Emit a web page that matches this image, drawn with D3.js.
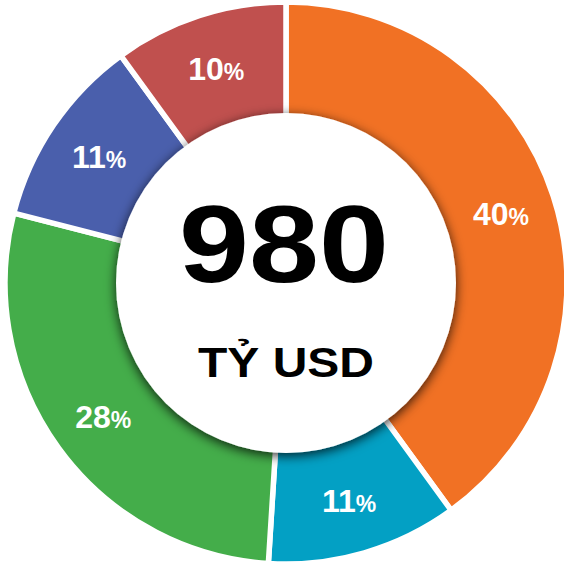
<!DOCTYPE html>
<html>
<head>
<meta charset="utf-8">
<script src="https://cdn.jsdelivr.net/npm/d3@7"></script>
<style>
    body { margin: 0; background: #fff; }
    text { font-family: "Liberation Sans", Arial, sans-serif; font-weight: bold; }
</style>
</head>
<body>
<div id="chart"></div>
<script>
var ctx = {
    w: 564,
    h: 564,
    cx: 286,
    cy: 283
};

// slice shares, clockwise from 12 o'clock
var shares = [40, 11, 28, 11, 10];
var colors = ["#F17124", "#03A0C4", "#44AD4A", "#4A5FAC", "#C0504E"];
var total = "980";
var unit = "TỶ USD";

var svg = d3.select("#chart").append("svg")
    .attr("width", ctx.w)
    .attr("height", ctx.h);

var defs = svg.append("defs");
var shadow = defs.append("filter")
    .attr("id", "shadow")
    .attr("x", "-20%").attr("y", "-20%")
    .attr("width", "140%").attr("height", "140%");
shadow.append("feDropShadow")
    .attr("dx", 0)
    .attr("dy", 3)
    .attr("stdDeviation", 6)
    .attr("flood-color", "#000")
    .attr("flood-opacity", 0.8);

var g = svg.append("g")
    .attr("transform", "translate(" + ctx.cx + "," + ctx.cy + ")");

var pie = d3.pie().sort(null).value(function (d) { return d; });
var arcs = pie(shares);

var arc = d3.arc()
    .innerRadius(140)
    .outerRadius(281);

g.selectAll("path.slice")
    .data(arcs)
    .enter().append("path")
    .attr("class", "slice")
    .attr("d", arc)
    .style("fill", function (d, i) { return colors[i]; })
    .style("stroke", "#fff")
    .style("stroke-width", 5.5);

// white centre disc with soft shadow
g.append("circle")
    .attr("r", 170)
    .style("fill", "#fff")
    .attr("filter", "url(#shadow)");

var labelArc = d3.arc()
    .innerRadius(226)
    .outerRadius(226);

var labels = g.selectAll("text.pct")
    .data(arcs)
    .enter().append("text")
    .attr("class", "pct")
    .attr("transform", function (d) {
        var c = labelArc.centroid(d);
        return "translate(" + c[0] + "," + (c[1] + 12) + ")";
    })
    .attr("text-anchor", "middle")
    .style("fill", "#fff");
labels.append("tspan")
    .style("font-size", "32px")
    .text(function (d) { return d.data; });
labels.append("tspan")
    .style("font-size", "23px")
    .text("%");

g.append("text")
    .attr("x", -2)
    .attr("y", -1)
    .attr("text-anchor", "middle")
    .attr("textLength", 210)
    .attr("lengthAdjust", "spacingAndGlyphs")
    .style("font-size", "109px")
    .style("fill", "#000")
    .text(total);

g.append("text")
    .attr("x", 0)
    .attr("y", 94)
    .attr("text-anchor", "middle")
    .attr("textLength", 176)
    .attr("lengthAdjust", "spacingAndGlyphs")
    .style("font-size", "43px")
    .style("fill", "#000")
    .text(unit);
</script>
</body>
</html>
